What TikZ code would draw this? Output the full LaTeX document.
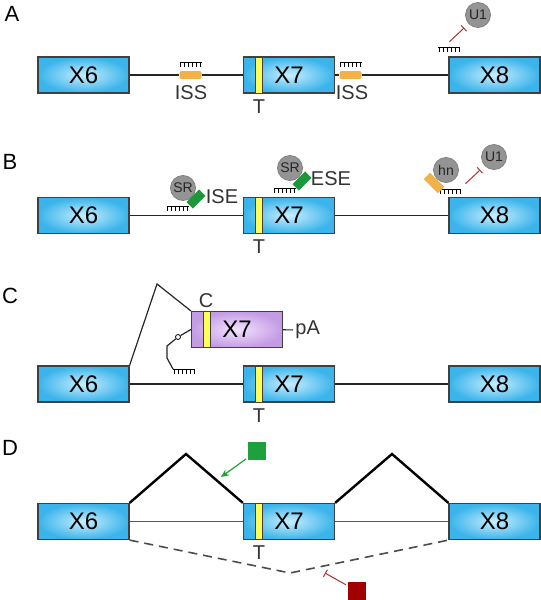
\documentclass[tikz,border=0pt]{standalone}
\usepackage{fontspec}
\setmainfont{Liberation Sans}
\usetikzlibrary{arrows.meta}

\definecolor{exonblue}{RGB}{58,180,234}
\definecolor{exonlight}{RGB}{200,238,255}
\definecolor{purpdark}{RGB}{196,156,228}
\definecolor{purplight}{RGB}{242,226,255}
\definecolor{stripeyel}{RGB}{255,255,90}
\definecolor{issorange}{RGB}{242,178,72}
\definecolor{sregreen}{RGB}{30,150,60}
\definecolor{sqgreen}{RGB}{30,160,60}
\definecolor{sqred}{RGB}{160,0,0}
\definecolor{inhred}{RGB}{170,50,50}

\tikzset{
  exon/.style={draw=black!75, line width=0.6pt, inner color=exonlight, outer color=exonblue,
    minimum width=45.5pt, minimum height=18pt, inner sep=0pt, font=\fontsize{12}{12}\selectfont},
  exonp/.style={exon, inner color=purplight, outer color=purpdark},
  stripe/.style={draw=black!75, line width=0.5pt, fill=stripeyel, minimum width=3.5pt,
    minimum height=18pt, inner sep=0pt},
  lbl/.style={inner sep=1pt, text=black!80, font=\fontsize{10}{10}\selectfont},
  panel/.style={inner sep=0pt, font=\fontsize{11}{11}\selectfont},
  intron/.style={line width=0.6pt, black!85},
  prot/.style={circle, draw=black!50, fill=black!42, minimum size=12.5pt, inner sep=0pt,
    text=black!85, font=\fontsize{7}{7}\selectfont},
  iss/.style={fill=issorange, rounded corners=1pt, minimum width=11pt, minimum height=4pt, inner sep=0pt},
  ese/.style={fill=sregreen, minimum width=9pt, minimum height=4.5pt, inner sep=0pt, rotate=45},
  hnbar/.style={fill=issorange, minimum width=10pt, minimum height=4.5pt, inner sep=0pt, rotate=-45},
  sq/.style={minimum size=9pt, inner sep=0pt},
  block/.style={inhred, line width=0.5pt, -{Bar[width=4pt]}, shorten >=3pt, shorten <=1pt},
  act/.style={sqgreen, line width=0.6pt, -{Stealth[length=4pt,width=3.5pt]}, shorten <=1pt},
  junction/.style={line width=1.2pt},
  skip/.style={line width=0.8pt, black!70, dash pattern=on 4.5pt off 3pt},
  knot/.style={circle, draw, fill=white, line width=0.4pt, minimum size=2.5pt, inner sep=0pt},
  rnacomb/.pic={
    \draw[line width=0.5pt] (-11,0) -- (11,0);
    \foreach \t in {-10,-6,-2,2,6,10} \draw[line width=0.5pt] (\t,0) -- (\t,5);
  }
}

\begin{document}
\begin{tikzpicture}[x=0.5pt,y=-0.5pt]
  \useasboundingbox (0,0) rectangle (541,600);

  % A
  \node[panel] (la) at (12,14) {A};
  \node[exon] (a6) at (83.5,75) {X6};
  \node[exon] (a7) at (289,75) {X7};
  \node[exon] (a8) at (494.5,75) {X8};
  \node[stripe] (sa) at (259,75) {};
  \node[lbl] (ta) at (259,107) {T};
  \node[iss] (iss1) at (190.5,75) {};
  \node[iss] (iss2) at (350.5,75) {};
  \draw[intron] (a6) -- (iss1) -- (a7) -- (iss2) -- (a8);
  \node[lbl] (liss1) at (191,93) {ISS};
  \node[lbl] (liss2) at (352,93) {ISS};
  \pic at (190.5,62) {rnacomb};
  \pic at (350.5,62) {rnacomb};
  \pic at (449,47) {rnacomb};
  \node[prot] (ua) at (478,15) {U1};
  \coordinate (ia) at (448,43);
  \draw[block] (ia) -- (ua);

  % B
  \node[panel] (lb) at (10,162) {B};
  \node[exon] (b6) at (83.5,215.5) {X6};
  \node[exon] (b7) at (289,215.5) {X7};
  \node[exon] (b8) at (494.5,215.5) {X8};
  \node[stripe] (sb) at (259,215.5) {};
  \node[lbl] (tb) at (259,247) {T};
  \draw[intron] (b6) -- (b7) -- (b8);
  \pic at (177.5,206) {rnacomb};
  \node[prot] (sr1) at (183,188) {SR};
  \node[ese] (ise) at (196,199) {};
  \node[lbl] (lise) at (222,197) {ISE};
  \pic at (284.5,188) {rnacomb};
  \node[prot] (sr2) at (290,168) {SR};
  \node[ese] (ese) at (302,181) {};
  \node[lbl] (lese) at (331,179) {ESE};
  \pic at (450,189) {rnacomb};
  \node[prot] (hn) at (446,170) {hn};
  \node[hnbar] (hnb) at (434,183) {};
  \node[prot] (ub) at (494,157) {U1};
  \coordinate (ib) at (464,185);
  \draw[block] (ib) -- (ub);

  % C
  \node[panel] (lc) at (10,296) {C};
  \node[exon] (c6) at (83.5,384) {X6};
  \node[exon] (c7) at (289,384) {X7};
  \node[exon] (c8) at (494.5,384) {X8};
  \node[stripe] (sc) at (259,384) {};
  \node[lbl] (tc) at (259,416) {T};
  \draw[intron] (c6) -- (c7) -- (c8);
  \node[exonp] (p7) at (237,329.5) {X7};
  \node[stripe] (sp) at (206.5,329.5) {};
  \node[lbl] (cp) at (206,301) {C};
  \node[lbl, anchor=west] (pa) at (293,330) {pA};
  \draw[intron] (p7) -- (pa);
  \coordinate (pk) at (157,284);
  \draw[intron] (c6.north east) -- (pk) -- (p7.north west);
  \node[knot] (kn) at (178,337) {};
  \draw[intron] (p7.west) -- (kn);
  \coordinate (ce) at (173,369);
  \draw[intron] (kn) -- (167,346) -- (167,358) -- (ce);
  \pic at (184,369) {rnacomb};

  % D
  \node[panel] (ld) at (10,448) {D};
  \node[exon] (d6) at (83.5,521.5) {X6};
  \node[exon] (d7) at (289,521.5) {X7};
  \node[exon] (d8) at (494.5,521.5) {X8};
  \node[stripe] (sd) at (259,521.5) {};
  \node[lbl] (td) at (259,553) {T};
  \draw[intron, black!65] (d6) -- (d7) -- (d8);
  \coordinate (pk1) at (186,454);
  \coordinate (pk2) at (392,454);
  \coordinate (dv) at (290,573);
  \draw[junction] (d6.north east) -- (pk1) -- (d7.north west);
  \draw[junction] (d7.north east) -- (pk2) -- (d8.north west);
  \draw[skip] (d6.south east) -- (dv) -- (d8.south west);
  \node[sq, fill=sqgreen] (gsq) at (257,451) {};
  \coordinate (gt) at (221,477);
  \draw[act] (gsq) -- (gt);
  \node[sq, fill=sqred] (rsq) at (357,591) {};
  \coordinate (rt) at (325,573);
  \draw[block, shorten >=0pt] (rsq) -- (rt);
\end{tikzpicture}
\end{document}
